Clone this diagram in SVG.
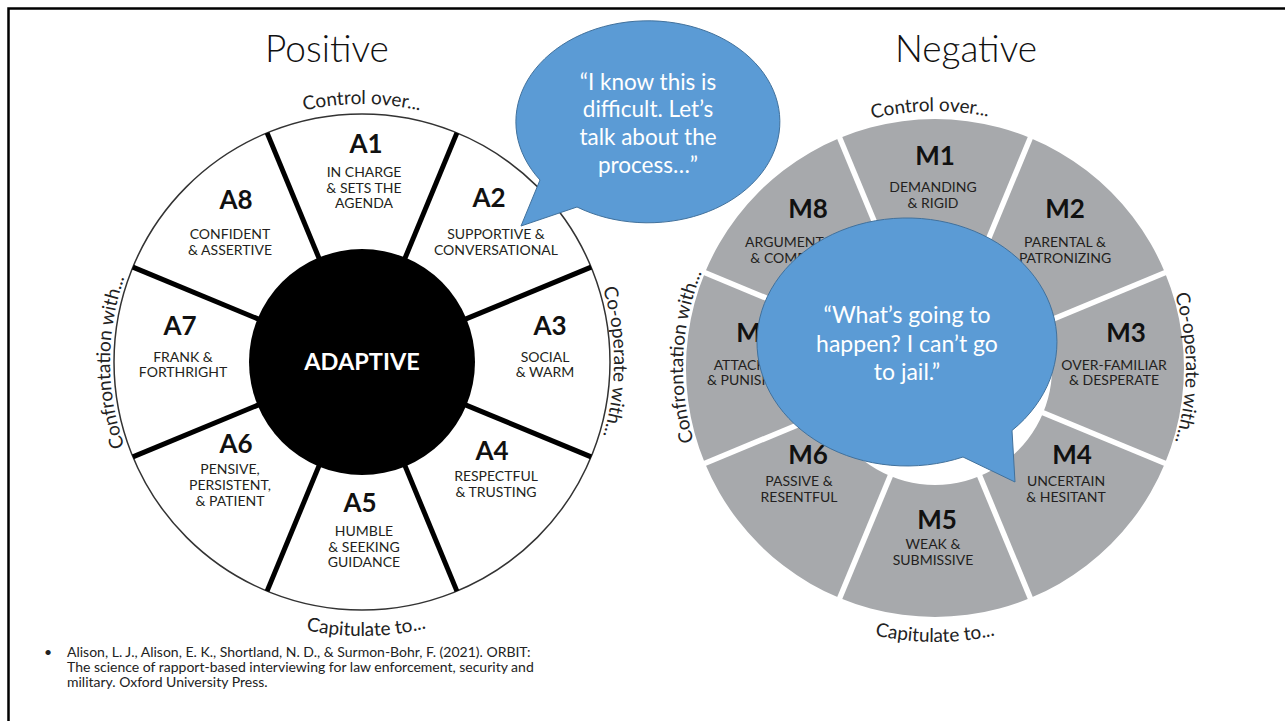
<svg xmlns="http://www.w3.org/2000/svg" width="1285" height="721" viewBox="0 0 1285 721">
<style>
.t{font-family:Lato,"Liberation Sans",sans-serif;fill:#231f20}
.head{font-weight:700;font-size:26px;text-anchor:middle;fill:#111}
.lab{font-size:14px;text-anchor:middle}
.curve{font-size:19px;fill:#222}
.title{font-family:Lato,"Liberation Sans",sans-serif;font-weight:300;font-size:37px;fill:#111;text-anchor:middle}
.bub{fill:#5b9bd5;stroke:#41719c;stroke-width:1}
.bt{font-family:Lato,"Liberation Sans",sans-serif;font-size:23px;fill:#fff;text-anchor:middle}
.div{stroke:#000;stroke-width:5}
.gap{stroke:#fff;stroke-width:5.5}
.cite{font-family:Lato,"Liberation Sans",sans-serif;font-size:14px;fill:#222}
</style>
<defs>
<path id="lTop" d="M104,362 A258,258 0 0 1 620,362"/>
<path id="lBot" d="M88,362 A274,274 0 0 0 636,362"/>
<path id="lLeft" d="M362,614 A252,252 0 0 1 362,110"/>
<path id="lRight" d="M362,110 A252,252 0 0 1 362,614"/>
<path id="rTop" d="M678,368 A257,257 0 0 1 1192,368"/>
<path id="rBot" d="M661,368 A274,274 0 0 0 1209,368"/>
<path id="rLeft" d="M935,620 A252,252 0 0 1 935,116"/>
<path id="rRight" d="M935,117 A251,251 0 0 1 935,619"/>
</defs>
<rect width="1285" height="721" fill="#fff"/>
<path d="M8.5,721 V8.5 H1285" fill="none" stroke="#000" stroke-width="2.5"/>

<text class="title" x="327" y="62">Positive</text>
<text class="title" x="966" y="62">Negative</text>

<g id="positive-wheel">
<circle cx="362" cy="362" r="248" fill="#fff" stroke="#333" stroke-width="1.5"/>
<g transform="translate(362,362)">
<line class="div" x1="110" y1="0" x2="248" y2="0" transform="rotate(22.5)"/>
<line class="div" x1="110" y1="0" x2="248" y2="0" transform="rotate(67.5)"/>
<line class="div" x1="110" y1="0" x2="248" y2="0" transform="rotate(112.5)"/>
<line class="div" x1="110" y1="0" x2="248" y2="0" transform="rotate(157.5)"/>
<line class="div" x1="110" y1="0" x2="248" y2="0" transform="rotate(202.5)"/>
<line class="div" x1="110" y1="0" x2="248" y2="0" transform="rotate(247.5)"/>
<line class="div" x1="110" y1="0" x2="248" y2="0" transform="rotate(292.5)"/>
<line class="div" x1="110" y1="0" x2="248" y2="0" transform="rotate(337.5)"/>
</g>
<circle cx="362" cy="362" r="113" fill="#000"/>
<text class="t head" x="362" y="370" style="font-size:23.5px;fill:#fff">ADAPTIVE</text>
</g>

<g id="A1" class="t"><text class="head" x="366" y="153">A1</text><text class="lab" x="364" y="177">IN CHARGE</text><text class="lab" x="364" y="192.5">&amp; SETS THE</text><text class="lab" x="364" y="208">AGENDA</text></g>
<g id="A2" class="t"><text class="head" x="489" y="207">A2</text><text class="lab" x="496" y="239">SUPPORTIVE &amp;</text><text class="lab" x="496" y="255">CONVERSATIONAL</text></g>
<g id="A3" class="t"><text class="head" x="550" y="335">A3</text><text class="lab" x="545" y="362">SOCIAL</text><text class="lab" x="545" y="377">&amp; WARM</text></g>
<g id="A4" class="t"><text class="head" x="492" y="460">A4</text><text class="lab" x="496" y="481">RESPECTFUL</text><text class="lab" x="496" y="497">&amp; TRUSTING</text></g>
<g id="A5" class="t"><text class="head" x="360" y="512">A5</text><text class="lab" x="364" y="536">HUMBLE</text><text class="lab" x="364" y="552">&amp; SEEKING</text><text class="lab" x="364" y="567">GUIDANCE</text></g>
<g id="A6" class="t"><text class="head" x="236" y="453">A6</text><text class="lab" x="230" y="474">PENSIVE,</text><text class="lab" x="230" y="490">PERSISTENT,</text><text class="lab" x="230" y="506">&amp; PATIENT</text></g>
<g id="A7" class="t"><text class="head" x="180" y="335">A7</text><text class="lab" x="183" y="362">FRANK &amp;</text><text class="lab" x="183" y="377">FORTHRIGHT</text></g>
<g id="A8" class="t"><text class="head" x="236" y="209">A8</text><text class="lab" x="230" y="239">CONFIDENT</text><text class="lab" x="230" y="255">&amp; ASSERTIVE</text></g>

<g id="positive-axes" class="t curve">
<text><textPath href="#lTop" startOffset="50%" text-anchor="middle">Control over...</textPath></text>
<text><textPath href="#lBot" startOffset="50.5%" text-anchor="middle">Capitulate to...</textPath></text>
<text><textPath href="#lLeft" startOffset="50%" text-anchor="middle">Confrontation with...</textPath></text>
<text><textPath href="#lRight" startOffset="50%" text-anchor="middle">Co-operate with...</textPath></text>
</g>

<g id="negative-wheel">
<path d="M935,119 A249,249 0 1 1 934.9,119 Z M935,251 A117,117 0 1 0 935.1,251 Z" fill="#a7a9ac" fill-rule="evenodd"/>
<g transform="translate(935,368)">
<line class="gap" x1="100" y1="0" x2="256" y2="0" transform="rotate(22.5)"/>
<line class="gap" x1="100" y1="0" x2="256" y2="0" transform="rotate(67.5)"/>
<line class="gap" x1="100" y1="0" x2="256" y2="0" transform="rotate(112.5)"/>
<line class="gap" x1="100" y1="0" x2="256" y2="0" transform="rotate(157.5)"/>
<line class="gap" x1="100" y1="0" x2="256" y2="0" transform="rotate(202.5)"/>
<line class="gap" x1="100" y1="0" x2="256" y2="0" transform="rotate(247.5)"/>
<line class="gap" x1="100" y1="0" x2="256" y2="0" transform="rotate(292.5)"/>
<line class="gap" x1="100" y1="0" x2="256" y2="0" transform="rotate(337.5)"/>
</g>
</g>

<g id="M1" class="t"><text class="head" x="935" y="165">M1</text><text class="lab" x="933" y="192">DEMANDING</text><text class="lab" x="933" y="208">&amp; RIGID</text></g>
<g id="M2" class="t"><text class="head" x="1065" y="218">M2</text><text class="lab" x="1065" y="247">PARENTAL &amp;</text><text class="lab" x="1065" y="263">PATRONIZING</text></g>
<g id="M3" class="t"><text class="head" x="1126" y="342">M3</text><text class="lab" x="1114" y="370">OVER-FAMILIAR</text><text class="lab" x="1114" y="385">&amp; DESPERATE</text></g>
<g id="M4" class="t"><text class="head" x="1072" y="464">M4</text><text class="lab" x="1066" y="486">UNCERTAIN</text><text class="lab" x="1066" y="502">&amp; HESITANT</text></g>
<g id="M5" class="t"><text class="head" x="937" y="529">M5</text><text class="lab" x="933" y="549">WEAK &amp;</text><text class="lab" x="933" y="565">SUBMISSIVE</text></g>
<g id="M6" class="t"><text class="head" x="808" y="464">M6</text><text class="lab" x="799" y="486">PASSIVE &amp;</text><text class="lab" x="799" y="502">RESENTFUL</text></g>
<g id="M7" class="t"><text class="head" x="756" y="342">M7</text><text class="lab" x="752" y="370">ATTACKING</text><text class="lab" x="752" y="385">&amp; PUNISHING</text></g>
<g id="M8" class="t"><text class="head" x="808" y="218">M8</text><text class="lab" x="803" y="247">ARGUMENTATIVE</text><text class="lab" x="803" y="263">&amp; COMPETITIVE</text></g>

<g id="negative-axes" class="t curve">
<text><textPath href="#rTop" startOffset="49.4%" text-anchor="middle">Control over...</textPath></text>
<text><textPath href="#rBot" startOffset="50%" text-anchor="middle">Capitulate to...</textPath></text>
<text><textPath href="#rLeft" startOffset="51.5%" text-anchor="middle">Confrontation with...</textPath></text>
<text><textPath href="#rRight" startOffset="50%" text-anchor="middle">Co-operate with...</textPath></text>
</g>

<g id="bubble-positive">
<path class="bub" d="M577,207 A132,101 0 1 0 540,180 L521,226 Z"/>
<text class="bt" x="648" y="90" style="font-size:22.5px">“I know this is</text>
<text class="bt" x="648" y="117" style="font-size:22.5px">difficult. Let’s</text>
<text class="bt" x="648" y="145" style="font-size:22.5px">talk about the</text>
<text class="bt" x="648" y="173" style="font-size:22.5px">process…”</text>
</g>

<g id="bubble-negative">
<path class="bub" d="M963,457 A150,124 0 1 1 1012,430.5 L1015,482 Z"/>
<text class="bt" x="907" y="323">“What’s going to</text>
<text class="bt" x="907" y="352">happen? I can’t go</text>
<text class="bt" x="907" y="380">to jail.”</text>
</g>

<g id="citation">
<text class="cite" x="44" y="657">•</text>
<text class="cite" x="67" y="657">Alison, L. J., Alison, E. K., Shortland, N. D., &amp; Surmon-Bohr, F. (2021). ORBIT:</text>
<text class="cite" x="67" y="672">The science of rapport-based interviewing for law enforcement, security and</text>
<text class="cite" x="67" y="687">military. Oxford University Press.</text>
</g>
</svg>
